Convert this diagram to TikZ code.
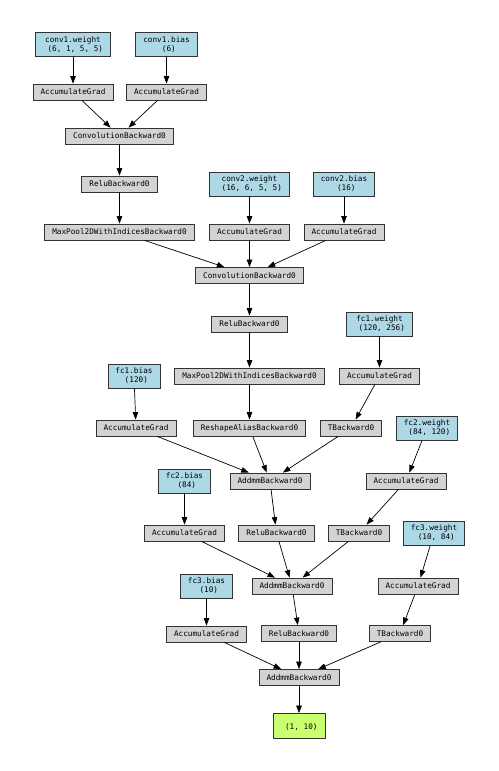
\documentclass[tikz,border=0pt]{standalone}
\usepackage{fontspec}
\usepackage{tikz}
\usetikzlibrary{arrows.meta,positioning}
\newfontfamily\vizmono{DejaVu Sans Mono}
\definecolor{vzblue}{RGB}{173,216,230}
\definecolor{vzgrey}{RGB}{211,211,211}
\definecolor{vzgreen}{RGB}{202,255,112}

\begin{document}
\begin{tikzpicture}[
  x=1pt, y=1pt, on grid,
  param/.style={draw=black!80, line width=0.8pt, fill=vzblue, minimum height=24pt, inner xsep=7.5pt, inner ysep=0pt, align=center, font=\vizmono\fontsize{7.7}{9}\selectfont},
  op/.style={draw=black!80, line width=0.8pt, fill=vzgrey, minimum height=16pt, inner xsep=7.5pt, inner ysep=0pt, font=\vizmono\fontsize{7.7}{9}\selectfont},
  outbox/.style={draw=black!80, line width=0.8pt, fill=vzgreen, minimum width=51pt, minimum height=25pt, inner xsep=7.5pt, inner ysep=0pt, align=center, font=\vizmono\fontsize{7.7}{9}\selectfont},
  arr/.style={-{Triangle[length=7.5pt, width=5.5pt]}, line width=0.7pt, black}
]
\useasboundingbox (0,0) rectangle (498,-771);
% first convolution
\node[param] (w1) at (73,-44.5) {conv1.weight\\\hphantom{0}(6, 1, 5, 5)};
\node[param, right=93.5pt of w1] (b1) {conv1.bias\\\hphantom{0}(6)};
\node[op, below=47.5pt of w1] (accw1) {AccumulateGrad};
\node[op, below=47.5pt of b1] (accb1) {AccumulateGrad};
\node[op, below right=44pt and 46.5pt of accw1] (conv1) {ConvolutionBackward0};
\node[op, below=48pt of conv1] (relu1) {ReluBackward0};
\node[op, below=48pt of relu1] (pool1) {MaxPool2DWithIndicesBackward0};
% second convolution
\node[param, right=130pt of relu1] (w2) {conv2.weight\\\hphantom{0}(16, 6, 5, 5)};
\node[param, right=94.5pt of w2] (b2) {conv2.bias\\\hphantom{0}(16)};
\node[op, below=48pt of w2] (accw2) {AccumulateGrad};
\node[op, below=48pt of b2] (accb2) {AccumulateGrad};
\node[op, below=43.5pt of accw2] (conv2) {ConvolutionBackward0};
\node[op, below=48.5pt of conv2] (relu2) {ReluBackward0};
\node[op, below=52pt of relu2] (pool2) {MaxPool2DWithIndicesBackward0};
\node[op, below=52pt of pool2] (reshape) {ReshapeAliasBackward0};
% fc1
\node[param, right=130pt of relu2] (fc1w) {fc1.weight\\\hphantom{0}(120, 256)};
\node[op, below=52pt of fc1w] (accfc1w) {AccumulateGrad};
\node[op, below left=52pt and 28.5pt of accfc1w] (t1) {TBackward0};
\node[param, left=115.5pt of pool2] (fc1b) {fc1.bias\\\hphantom{0}(120)};
\node[op, below right=52pt and 2pt of fc1b] (accfc1b) {AccumulateGrad};
\node[op, below right=53pt and 20.5pt of reshape] (addmm1) {AddmmBackward0};
% fc2
\node[param, right=76pt of t1] (fc2w) {fc2.weight\\\hphantom{0}(84, 120)};
\node[op, below left=53pt and 21pt of fc2w] (accfc2w) {AccumulateGrad};
\node[op, below left=52pt and 47pt of accfc2w] (t2) {TBackward0};
\node[param, left=85.5pt of addmm1] (fc2b) {fc2.bias\\\hphantom{0}(84)};
\node[op, below=52pt of fc2b] (accfc2b) {AccumulateGrad};
\node[op, below right=52pt and 6.5pt of addmm1] (relu3) {ReluBackward0};
\node[op, below right=53pt and 15.5pt of relu3] (addmm2) {AddmmBackward0};
% fc3
\node[param, right=75pt of t2] (fc3w) {fc3.weight\\\hphantom{0}(10, 84)};
\node[op, below left=53pt and 16pt of fc3w] (accfc3w) {AccumulateGrad};
\node[op, below left=47.5pt and 18pt of accfc3w] (t3) {TBackward0};
\node[param, left=85.5pt of addmm2] (fc3b) {fc3.bias\\\hphantom{0}(10)};
\node[op, below=48pt of fc3b] (accfc3b) {AccumulateGrad};
\node[op, below right=47.5pt and 7pt of addmm2] (relu4) {ReluBackward0};
\node[op, below=44pt of relu4] (addmm3) {AddmmBackward0};
\node[outbox, below=48.5pt of addmm3] (out) {\mbox{}\\\hphantom{0}(1, 10)};
% edges
\draw[arr] (w1) -- (accw1);
\draw[arr] (b1) -- (accb1);
\draw[arr] (accw1) -- (conv1);
\draw[arr] (accb1) -- (conv1);
\draw[arr] (conv1) -- (relu1);
\draw[arr] (relu1) -- (pool1);
\draw[arr] (w2) -- (accw2);
\draw[arr] (b2) -- (accb2);
\draw[arr] (pool1) -- (conv2);
\draw[arr] (accw2) -- (conv2);
\draw[arr] (accb2) -- (conv2);
\draw[arr] (conv2) -- (relu2);
\draw[arr] (relu2) -- (pool2);
\draw[arr] (pool2) -- (reshape);
\draw[arr] (fc1w) -- (accfc1w);
\draw[arr] (accfc1w) -- (t1);
\draw[arr] (fc1b) -- (accfc1b);
\draw[arr] (accfc1b) -- (addmm1);
\draw[arr] (reshape) -- (addmm1);
\draw[arr] (t1) -- (addmm1);
\draw[arr] (addmm1) -- (relu3);
\draw[arr] (fc2w) -- (accfc2w);
\draw[arr] (accfc2w) -- (t2);
\draw[arr] (fc2b) -- (accfc2b);
\draw[arr] (accfc2b) -- (addmm2);
\draw[arr] (relu3) -- (addmm2);
\draw[arr] (t2) -- (addmm2);
\draw[arr] (addmm2) -- (relu4);
\draw[arr] (fc3w) -- (accfc3w);
\draw[arr] (accfc3w) -- (t3);
\draw[arr] (fc3b) -- (accfc3b);
\draw[arr] (accfc3b) -- (addmm3);
\draw[arr] (relu4) -- (addmm3);
\draw[arr] (t3) -- (addmm3);
\draw[arr] (addmm3) -- (out);
\end{tikzpicture}
\end{document}
